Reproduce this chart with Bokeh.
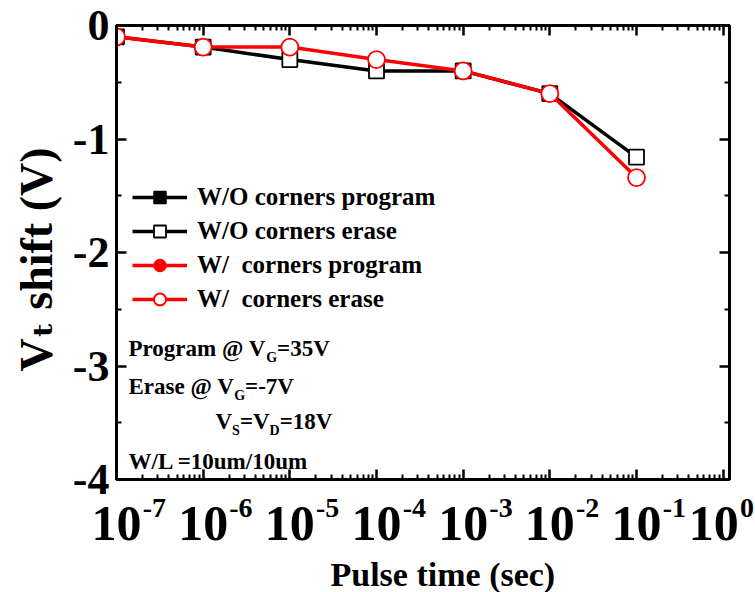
from bokeh.plotting import figure
from bokeh.models import (Label, Legend, LegendItem, FixedTicker, LogAxis, LinearAxis,
                          ColumnDataSource, Range1d, Title)
from bokeh.embed import file_html
from bokeh.resources import INLINE

# ---------------- data ----------------
pulse_time = [1e-7, 1e-6, 1e-5, 1e-4, 1e-3, 1e-2, 1e-1]
wo_erase = [-0.10, -0.19, -0.30, -0.40, -0.40, -0.60, -1.16]
w_erase = [-0.10, -0.19, -0.19, -0.30, -0.40, -0.60, -1.34]
# program shifts are positive, i.e. off the plotted 0..-4 scale: not readable
wo_program = [float("nan")] * 7
w_program = [float("nan")] * 7

x_tick_values = [1e-7, 1e-6, 1e-5, 1e-4, 1e-3, 1e-2, 1e-1, 1e0]
x_tick_base = "10"
x_tick_exps = ["-7", "-6", "-5", "-4", "-3", "-2", "-1", "0"]
y_tick_values = [0, -1, -2, -3, -4]
y_tick_labels = ["0", "-1", "-2", "-3", "-4"]
y_minor = [-0.5, -1.5, -2.5, -3.5]

x_title = "Pulse time (sec)"
y_title = "V\u209c shift (V)"

legend_labels = ["W/O corners program", "W/O corners erase",
                 "W/  corners program", "W/  corners erase"]

note_lines = [
    [("Program @ V", False), ("G", True), ("=35V", False)],
    [("Erase @ V", False), ("G", True), ("=-7V", False)],
    [("V", False), ("S", True), ("=V", False), ("D", True), ("=18V", False)],
    [("W/L =10um/10um", False)],
]
note_y = [-2.848, -3.182, -3.49, -3.842]
note_x_off = [12, 12, 99, 12]

FONT = "Liberation Serif"
FONT_FB = "'Liberation Serif', 'DejaVu Serif'"

# Times/Liberation Serif Bold advance widths (per 1000 em)
ADV = {' ': 250, 'P': 611, 'r': 444, 'o': 500, 'g': 500, 'a': 500, 'm': 833, '@': 930,
       'V': 722, 'G': 778, '=': 570, '3': 500, '5': 500, 'E': 667, 's': 389, 'e': 444,
       '-': 333, '7': 500, 'S': 556, 'D': 722, '1': 500, '8': 500, 'W': 1000, '/': 278,
       'L': 667, '0': 500, 'u': 556, 't': 333, 'h': 556, 'i': 278, 'f': 333, '(': 333,
       ')': 333, 'c': 444, 'n': 556, 'l': 278, 'p': 556}


def tw(s, size):
    return sum(ADV.get(ch, 500) for ch in s) * size / 1000.0


p = figure(width=755, height=592, x_axis_type="log",
           x_range=Range1d(1e-7, 10 ** 0.073), y_range=Range1d(-4, 0),
           output_backend="svg", toolbar_location=None,
           min_border_left=116, min_border_right=26, min_border_top=25, min_border_bottom=112)
p.grid.visible = False
p.outline_line_color = "black"
p.outline_line_width = 3
p.background_fill_color = "white"
p.border_fill_color = "white"

minor_x = [m * 10 ** e for e in range(-7, 0) for m in range(2, 10)]


def style_axis(ax, show_labels=False):
    ax.axis_line_width = 3
    ax.axis_line_color = "black"
    ax.major_tick_line_width = 2.5
    ax.minor_tick_line_width = 2
    ax.major_tick_in = 10
    ax.major_tick_out = 0
    ax.minor_tick_in = 5
    ax.minor_tick_out = 0
    if not show_labels:
        ax.major_label_text_font_size = "1px"
        ax.major_label_text_alpha = 0
        ax.major_label_standoff = 0


n_x = len(x_tick_values)
EM, EN, THIN, THIRD = "\u2003", "\u2002", "\u2009", "\u2004"

# main bottom axis: the "10" part of the labels (centred on the ticks)
xa = p.xaxis[0]
xa.ticker = FixedTicker(ticks=x_tick_values, minor_ticks=minor_x)
style_axis(xa, show_labels=True)
xa.major_label_overrides = {
    t: x_tick_base + (THIRD if i == n_x - 1 else "") for i, t in enumerate(x_tick_values)
}
xa.major_label_text_font = FONT
xa.major_label_text_font_style = "bold"
xa.major_label_text_font_size = "50px"
xa.major_label_text_color = "black"
xa.major_label_standoff = 15

# second bottom axis: the exponents, raised to the right of each "10"
xs = LogAxis(ticker=FixedTicker(ticks=x_tick_values, minor_ticks=[]))
xs.axis_line_alpha = 0
xs.major_tick_line_alpha = 0
xs.major_tick_in = 0
xs.major_tick_out = 0
xs.minor_tick_in = 0
xs.minor_tick_out = 0
xs.major_label_overrides = {
    t: ((EM + EN + THIN) if i == n_x - 1 else (EM * 2 + EN + THIN)) + e
    for i, (t, e) in enumerate(zip(x_tick_values, x_tick_exps))
}
xs.major_label_text_font = FONT
xs.major_label_text_font_style = "bold"
xs.major_label_text_font_size = "28px"
xs.major_label_text_color = "black"
xs.major_label_standoff = -62
p.add_layout(xs, "below")

ya = p.yaxis[0]
ya.ticker = FixedTicker(ticks=y_tick_values, minor_ticks=y_minor)
style_axis(ya, show_labels=True)
ya.major_label_overrides = {v: s for v, s in zip(y_tick_values, y_tick_labels)}
ya.major_label_text_font = FONT
ya.major_label_text_font_style = "bold"
ya.major_label_text_font_size = "44px"
ya.major_label_text_color = "black"
ya.major_label_standoff = 7

top = LogAxis(ticker=FixedTicker(ticks=x_tick_values, minor_ticks=minor_x))
style_axis(top)
p.add_layout(top, "above")
right = LinearAxis(ticker=FixedTicker(ticks=y_tick_values, minor_ticks=y_minor))
style_axis(right)
p.add_layout(right, "right")

p.add_layout(Title(text=x_title, align="left", offset=214, standoff=0,
                   text_font=FONT, text_font_style="bold", text_font_size="34px",
                   text_color="black"), "below")
p.add_layout(Title(text=y_title, align="left", offset=108, standoff=15,
                   text_font=FONT_FB, text_font_style="bold", text_font_size="46px",
                   text_color="black"), "left")

# ---------------- series ----------------
src_wo = ColumnDataSource(dict(x=pulse_time, y=wo_erase))
src_w = ColumnDataSource(dict(x=pulse_time, y=w_erase))
src_wop = ColumnDataSource(dict(x=pulse_time, y=wo_program))
src_wp = ColumnDataSource(dict(x=pulse_time, y=w_program))

l_wop = p.line("x", "y", source=src_wop, line_color="black", line_width=3.5)
m_wop = p.scatter("x", "y", source=src_wop, marker="square", size=15,
                  fill_color="black", line_color="black", line_width=1.5)
l_wp = p.line("x", "y", source=src_wp, line_color="red", line_width=3.5)
m_wp = p.scatter("x", "y", source=src_wp, marker="circle", size=17,
                 fill_color="red", line_color="red", line_width=1.5)

l_wo = p.line("x", "y", source=src_wo, line_color="black", line_width=3.5)
m_wo = p.scatter("x", "y", source=src_wo, marker="square", size=15,
                 fill_color="white", line_color="black", line_width=1.8)
l_w = p.line("x", "y", source=src_w, line_color="red", line_width=3.5)
m_w = p.scatter("x", "y", source=src_w, marker="circle", size=17,
                fill_color="white", line_color="red", line_width=1.8)

legend = Legend(items=[
    LegendItem(label=legend_labels[0], renderers=[l_wop, m_wop], index=0),
    LegendItem(label=legend_labels[1], renderers=[l_wo, m_wo], index=0),
    LegendItem(label=legend_labels[2], renderers=[l_wp, m_wp], index=0),
    LegendItem(label=legend_labels[3], renderers=[l_w, m_w], index=0),
], location=(16, 165))
legend.border_line_alpha = 0
legend.background_fill_alpha = 0
legend.padding = 0
legend.margin = 0
legend.spacing = 4
legend.glyph_width = 55
legend.glyph_height = 30
legend.label_height = 30
legend.label_standoff = 10
legend.label_text_font = FONT
legend.label_text_font_style = "bold"
legend.label_text_font_size = "25px"
legend.label_text_color = "black"
p.add_layout(legend)

# ---------------- notes (inside the frame) ----------------
NF, NS = 23, 14
for parts, yv, x0 in zip(note_lines, note_y, note_x_off):
    off = x0
    for txt, sub in parts:
        fs = NS if sub else NF
        p.add_layout(Label(x=x_tick_values[0], y=yv, x_offset=off, y_offset=(-9 if sub else 0),
                           text=txt, text_align="left", text_baseline="alphabetic",
                           text_font=FONT, text_font_style="bold", text_font_size=f"{fs}px",
                           text_color="black"))
        off += tw(txt, fs)

open("out.html", "w").write(file_html(p, INLINE))
